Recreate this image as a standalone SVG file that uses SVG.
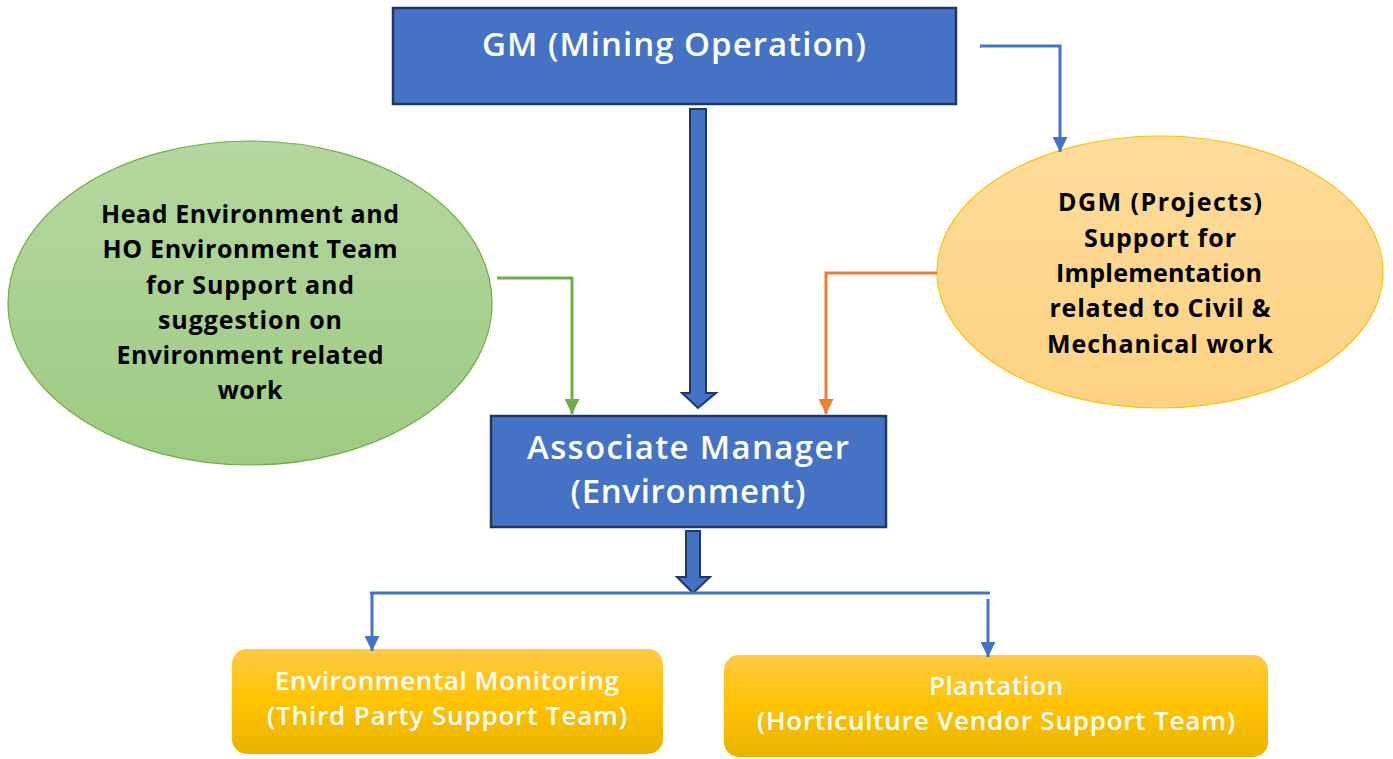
<svg xmlns="http://www.w3.org/2000/svg" width="1393" height="759" viewBox="0 0 1393 759">
<defs>
<linearGradient id="gGreen" x1="0" y1="0" x2="0" y2="1">
<stop offset="0" stop-color="#B5D7A0"/>
<stop offset="1" stop-color="#9DCB82"/>
</linearGradient>
<linearGradient id="gOrange" x1="0" y1="0" x2="0" y2="1">
<stop offset="0" stop-color="#FEDC9A"/>
<stop offset="1" stop-color="#FDD283"/>
</linearGradient>
<linearGradient id="gGold" x1="0" y1="0" x2="0" y2="1">
<stop offset="0" stop-color="#FFC945"/>
<stop offset="0.5" stop-color="#FFC300"/>
<stop offset="1" stop-color="#E8B300"/>
</linearGradient>
<marker id="aBlue" markerWidth="5" markerHeight="5" refX="5" refY="2.5" orient="auto" markerUnits="strokeWidth"><path d="M0,0 L5,2.5 L0,5 Z" fill="#4472C4"/></marker>
<marker id="aGreen" markerWidth="5" markerHeight="5" refX="5" refY="2.5" orient="auto" markerUnits="strokeWidth"><path d="M0,0 L5,2.5 L0,5 Z" fill="#70AD47"/></marker>
<marker id="aOrange" markerWidth="5" markerHeight="5" refX="5" refY="2.5" orient="auto" markerUnits="strokeWidth"><path d="M0,0 L5,2.5 L0,5 Z" fill="#ED7D31"/></marker>
</defs>
<style>
.box{fill:#4472C4;stroke:#1F3864;stroke-width:2.5}
.wt{fill:#FFFFFF;font-family:"Open Sans","Noto Sans",sans-serif;font-weight:600;text-anchor:middle}
.bt{fill:#000000;font-family:"Open Sans","Noto Sans",sans-serif;font-weight:700;font-size:25px;text-anchor:middle}
.gt{fill:#FFFFFF;font-family:"Open Sans","Noto Sans",sans-serif;font-weight:600;font-size:26px;text-anchor:middle}
.big{fill:#4472C4;stroke:#1F3864;stroke-width:2}
.ln{fill:none;stroke-width:3}
</style>
<rect width="1393" height="759" fill="#FFFFFF"/>
<g id="gm">
<rect class="box" x="393" y="8" width="563" height="96"/>
<text class="wt" x="674" y="56" font-size="33" textLength="384" lengthAdjust="spacing">GM (Mining Operation)</text>
</g>
<g id="head-env">
<ellipse cx="250" cy="303" rx="242" ry="162" fill="url(#gGreen)" stroke="#70AD47" stroke-width="1.2"/>
<text class="bt" x="250" y="223" textLength="298" lengthAdjust="spacing">Head Environment and</text>
<text class="bt" x="250" y="258" textLength="295" lengthAdjust="spacing">HO Environment Team</text>
<text class="bt" x="250" y="294" textLength="208" lengthAdjust="spacing">for Support and</text>
<text class="bt" x="250" y="329" textLength="184" lengthAdjust="spacing">suggestion on</text>
<text class="bt" x="250" y="364" textLength="267" lengthAdjust="spacing">Environment related</text>
<text class="bt" x="250" y="399" textLength="65" lengthAdjust="spacing">work</text>
</g>
<g id="dgm">
<ellipse cx="1160" cy="272" rx="223" ry="136" fill="url(#gOrange)" stroke="#FFC000" stroke-width="1.2"/>
<text class="bt" x="1160" y="211" textLength="204" lengthAdjust="spacing">DGM (Projects)</text>
<text class="bt" x="1160" y="247" textLength="152" lengthAdjust="spacing">Support for</text>
<text class="bt" x="1159" y="282" textLength="206" lengthAdjust="spacing">Implementation</text>
<text class="bt" x="1160" y="317" textLength="221" lengthAdjust="spacing">related to Civil &amp;</text>
<text class="bt" x="1160" y="353" textLength="226" lengthAdjust="spacing">Mechanical work</text>
</g>
<g id="assoc">
<rect class="box" x="491" y="416" width="395" height="111"/>
<text class="wt" x="688" y="459" font-size="33" textLength="322" lengthAdjust="spacing">Associate Manager</text>
<text class="wt" x="688" y="503" font-size="33" textLength="235" lengthAdjust="spacing">(Environment)</text>
</g>
<g id="env-mon">
<rect x="232" y="649" width="431" height="105" rx="15" fill="url(#gGold)"/>
<text class="gt" x="447" y="690" textLength="344" lengthAdjust="spacing">Environmental Monitoring</text>
<text class="gt" x="447" y="725" textLength="360" lengthAdjust="spacing">(Third Party Support Team)</text>
</g>
<g id="plantation">
<rect x="724" y="655" width="544" height="102" rx="15" fill="url(#gGold)"/>
<text class="gt" x="996" y="695" textLength="134" lengthAdjust="spacing">Plantation</text>
<text class="gt" x="996" y="730" textLength="478" lengthAdjust="spacing">(Horticulture Vendor Support Team)</text>
</g>
<g id="connectors">
<path class="big" d="M690,109 H706 V393 H716 L698,408 L682,393 H690 Z"/>
<path class="big" d="M686,531 H700 V577 H710 L693,593 L677,577 H686 Z"/>
<polyline class="ln" stroke="#4472C4" points="980,46 1060,46 1060,152" marker-end="url(#aBlue)"/>
<polyline class="ln" stroke="#70AD47" points="497,278 572,278 572,414" marker-end="url(#aGreen)"/>
<polyline class="ln" stroke="#ED7D31" points="937,273 826,273 826,414" marker-end="url(#aOrange)"/>
<line class="ln" stroke="#4472C4" x1="370" y1="593" x2="990" y2="593"/>
<polyline class="ln" stroke="#4472C4" points="372,593 372,651" marker-end="url(#aBlue)"/>
<polyline class="ln" stroke="#4472C4" points="988,599 988,657" marker-end="url(#aBlue)"/>
</g>
</svg>
